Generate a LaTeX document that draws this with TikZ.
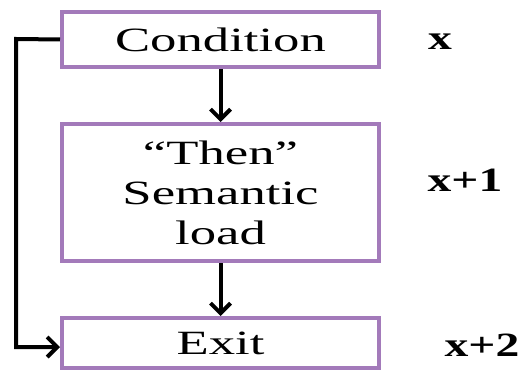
\documentclass[tikz,border=0pt]{standalone}
\usepackage{fontspec}
\setmainfont{Liberation Serif}
\usepackage{xcolor}
\usetikzlibrary{arrows.meta}
\definecolor{boxpurple}{RGB}{163,122,186}
\newcommand{\wide}[1]{\scalebox{1.55}[1]{#1}}
\newcommand{\widelabel}[1]{\scalebox{1.4}[1]{#1}}

\begin{document}
\begin{tikzpicture}[x=1pt, y=-1pt,
		stepbox/.style={draw=boxpurple, line width=4pt, fill=white, minimum width=317pt,
			inner sep=0pt, align=center, font=\fontsize{34}{40}\selectfont},
		steplabel/.style={font=\bfseries\fontsize{34}{40}\selectfont},
		flow/.style={line width=4pt, -{Straight Barb[length=10pt, width=20pt, line width=4pt]}}]
					\useasboundingbox (0,0) rectangle (532,371);

					\begin{scope}
						\node [stepbox, minimum height=55pt] (cond) at (220.5,39.5) {\wide{Condition}};
						\node [stepbox, minimum height=137pt] (load) at (220.5,192.5) {\wide{``Then''}\\\wide{Semantic}\\\wide{load}};
						\node [stepbox, minimum height=50pt] (exit) at (220.5,343) {\wide{Exit}};
					\end{scope}

					\begin{scope}
						\node [steplabel] (lx) at (440,42) {\widelabel{x}};
						\node [steplabel] (lx1) at (465,180) {\widelabel{x+1}};
						\node [steplabel] (lx2) at (482,345) {\widelabel{x+2}};
					\end{scope}

					\begin{scope}
						\coordinate (bendtop) at (16,39);
						\coordinate (bendbot) at (16,347);
						\draw [flow] (cond) -- (load);
						\draw [flow] (load) -- (exit);
						\draw [flow] (cond.west) -- (bendtop) -- (bendbot) -- (bendbot -| exit.west);
					\end{scope}
				\end{tikzpicture}
\end{document}
